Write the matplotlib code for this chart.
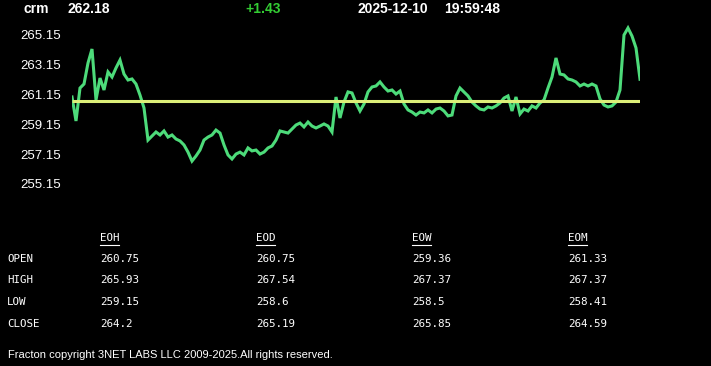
import matplotlib
matplotlib.use('Agg')
import matplotlib.pyplot as plt
from matplotlib.lines import Line2D

# header values
symbol = 'crm'
last_price = '262.18'
change = '+1.43'
date_str = '2025-12-10'
time_str = '19:59:48'

# price trace, evenly spaced in time
prices = [260.99, 259.38, 261.59, 261.86, 263.27, 264.21, 260.79, 262.26, 261.46, 262.67,
          262.33, 262.94, 263.47, 262.53, 262.13, 262.20, 261.86, 261.12, 260.25, 258.10,
          258.37, 258.64, 258.44, 258.71, 258.30, 258.44, 258.17, 258.04, 257.77, 257.29,
          256.69, 257.03, 257.43, 258.10, 258.30, 258.44, 258.77, 258.57, 257.77, 257.10,
          256.83, 257.16, 257.29, 257.10, 257.57, 257.37, 257.43, 257.16, 257.29, 257.57,
          257.70, 258.10, 258.71, 258.64, 258.57, 258.84, 259.11, 259.24, 258.98, 259.31,
          259.04, 258.91, 259.04, 259.18, 259.04, 258.64, 260.99, 259.58, 260.65, 261.33,
          261.26, 260.59, 260.05, 260.52, 261.33, 261.66, 261.73, 262.00, 261.66, 261.39,
          261.46, 261.19, 261.39, 260.52, 260.12, 259.98, 259.78, 259.98, 259.92, 260.12,
          259.92, 260.18, 260.25, 260.05, 259.72, 259.78, 261.06, 261.59, 261.33, 261.06,
          260.65, 260.39, 260.18, 260.12, 260.32, 260.25, 260.39, 260.59, 260.92, 261.06,
          260.05, 260.99, 259.85, 260.18, 260.05, 260.39, 260.25, 260.59, 260.79, 261.59,
          262.33, 263.61, 262.53, 262.47, 262.20, 262.13, 262.00, 261.73, 261.86, 261.73,
          261.86, 261.73, 260.86, 260.45, 260.32, 260.39, 260.65, 261.46, 265.15, 265.62,
          265.08, 264.28, 262.18]
open_price = 260.75
y_ticks = [255.15, 257.15, 259.15, 261.15, 263.15, 265.15]

# summary table
periods = ['EOH', 'EOD', 'EOW', 'EOM']
row_names = ['OPEN', 'HIGH', 'LOW', 'CLOSE']
table = {
    'EOH': ['260.75', '265.93', '259.15', '264.2'],
    'EOD': ['260.75', '267.54', '258.6', '265.19'],
    'EOW': ['259.36', '267.37', '258.5', '265.85'],
    'EOM': ['261.33', '267.37', '258.41', '264.59'],
}
footer = 'Fracton copyright 3NET LABS LLC 2009-2025.All rights reserved.'

W, H = 711, 366
fig = plt.figure(figsize=(W / 100, H / 100), dpi=100, facecolor='black')

# axes placed in pixel terms: x 72..640, y 20..200
ax = fig.add_axes([72 / W, 1 - 200 / H, (640 - 72) / W, 180 / H], facecolor='black')
ax.plot(range(len(prices)), prices, color='#4ddb7a', lw=2.2, solid_joinstyle='miter')
ax.hlines(open_price, 0, len(prices) - 1, color='#dcee78', lw=2.2, zorder=3)
ax.set_xlim(0, len(prices) - 1)
ax.set_ylim(255.15 - 16 / 14.9, 265.15 + 15 / 14.9)
ax.set_yticks(y_ticks)
ax.set_yticklabels([f'{t:.2f}' for t in y_ticks])
ax.tick_params(axis='y', length=0, pad=8, labelcolor='white', labelsize=9.5)
ax.tick_params(axis='x', bottom=False, labelbottom=False)
for lab in ax.get_yticklabels():
    lab.set_family('Liberation Sans')
for s in ax.spines.values():
    s.set_visible(False)

def px(x, y):
    return x / W, 1 - y / H

hdr = dict(color='white', fontsize=10, fontweight='bold', family='Liberation Sans', va='center')
fig.text(*px(23, 9), symbol, **hdr)
fig.text(*px(67, 9), last_price, **hdr)
fig.text(*px(245, 9), change, **{**hdr, 'color': '#33cc33'})
fig.text(*px(357, 9), date_str, **hdr)
fig.text(*px(444, 9), time_str, **hdr)

mono = dict(color='white', fontsize=7.8, family='DejaVu Sans Mono', va='center')
col_x = [100, 256, 412, 568]
row_y = [259, 280, 302, 324]
for cx, p in zip(col_x, periods):
    fig.text(*px(cx, 238), p, **mono)
    fig.add_artist(Line2D([cx / W, (cx + 19) / W], [1 - 245 / H, 1 - 245 / H],
                          transform=fig.transFigure, color='white', lw=0.8))
    for ry, v in zip(row_y, table[p]):
        fig.text(*px(cx, ry), v, **mono)
for ry, name in zip(row_y, row_names):
    fig.text(*px(7, ry), name, **mono)

fig.text(*px(8, 355), footer, color='white', fontsize=8, family='Liberation Sans', va='center')

fig.savefig('out.png', dpi=100, facecolor='black')
